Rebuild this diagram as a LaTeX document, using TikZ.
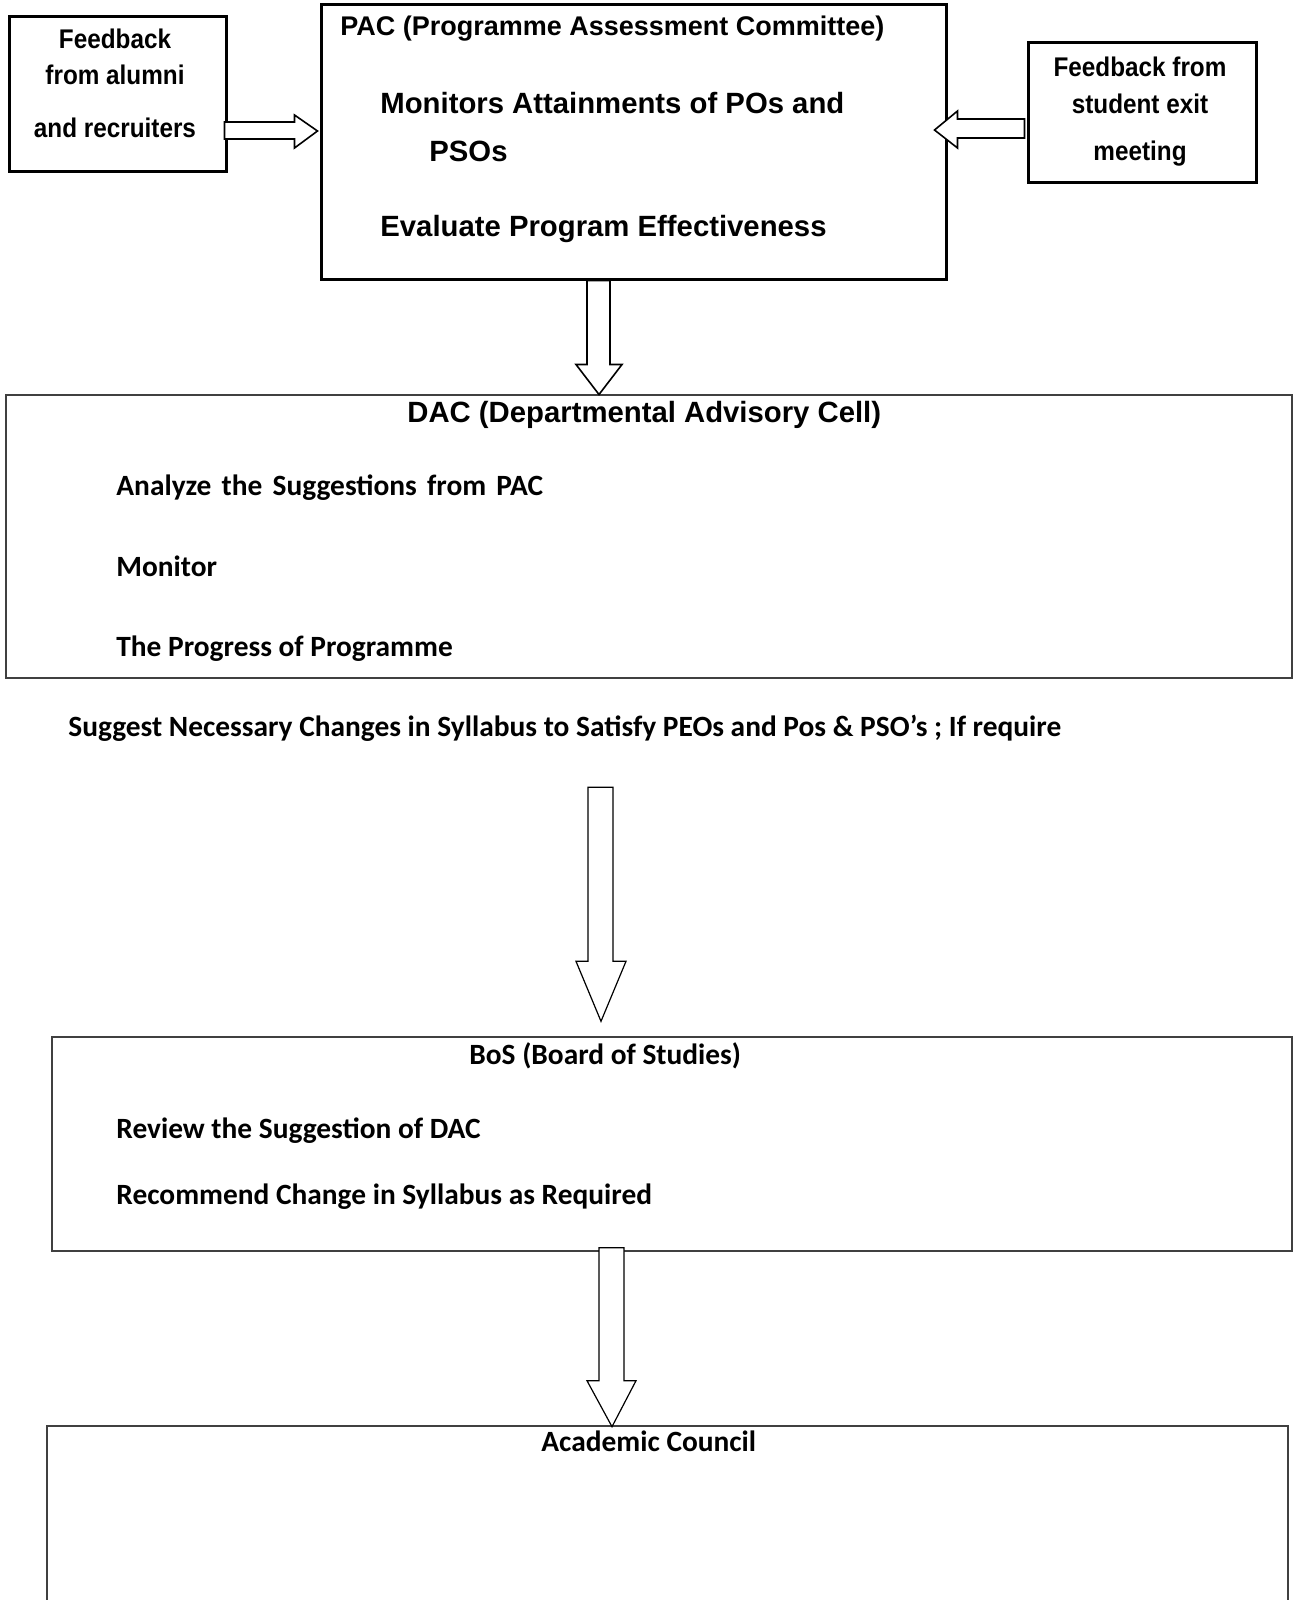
\documentclass[tikz,border=0pt]{standalone}
\usepackage{fontspec}
\usetikzlibrary{calc}
\newfontfamily\arialfont{Liberation Sans}
\newfontfamily\arialnarrow{Liberation Sans}[FakeStretch=0.9]
\newfontfamily\califont{Carlito}
\tikzset{
  thickbox/.style={draw=black, line width=1.5pt, inner sep=0pt},
  thinbox/.style={draw=black!75, line width=0.7pt, inner sep=0pt},
  blk/.style={draw=black, fill=white, line width=0.8pt, line join=miter},
  blkthin/.style={blk, line width=0.6pt},
  fbtext/.style={font=\arialnarrow\bfseries\fontsize{13.5}{16}\selectfont, inner sep=0pt, anchor=base},
  pactitle/.style={font=\arialfont\bfseries\fontsize{13.5}{16}\selectfont, inner sep=0pt, anchor=base west},
  pactext/.style={font=\arialfont\bfseries\fontsize{14.65}{17}\selectfont, inner sep=0pt, anchor=base west},
  calitext/.style={font=\califont\bfseries\fontsize{14.7}{17}\selectfont, inner sep=0pt, anchor=base west},
}
\begin{document}
\begin{tikzpicture}[x=0.5pt, y=-0.5pt]
\useasboundingbox (0,0) rectangle (1296,1600);
\fill[white] (0,0) rectangle (1296,1600);
\clip (0,0) rectangle (1296,1600);

% boxes
\node[thickbox, minimum width=108.5pt, minimum height=77pt] (fbl) at (117.5,94) {};
\node[thickbox, minimum width=312.5pt, minimum height=137pt] (pac) at (633.5,142) {};
\node[thickbox, minimum width=114pt, minimum height=69.5pt] (fbr) at (1142,112.5) {};
\node[thinbox, minimum width=643pt, minimum height=141.5pt] (dac) at (649,536.5) {};
\node[thinbox, minimum width=620pt, minimum height=107pt] (bos) at (672,1144) {};
\node[thinbox, minimum width=620.5pt, minimum height=100pt] (ac) at (667.5,1526) {};

% texts of the feedback boxes
\node[fbtext] (fbl1) at (115,49) {Feedback};
\node[fbtext] (fbl2) at (115,85) {from alumni};
\node[fbtext] (fbl3) at (115,137) {and recruiters};
\node[fbtext] (fbr1) at (1140,76) {Feedback from};
\node[fbtext] (fbr2) at (1140,113) {student exit};
\node[fbtext] (fbr3) at (1140,161) {meeting};

% PAC texts
\node[pactitle] (pact) at (340,36) {PAC (Programme Assessment Committee)};
\node[pactext] (pac1) at (380,113) {Monitors Attainments of POs and};
\node[pactext] (pac2) at (429,162) {PSOs};
\node[pactext] (pac3) at (380,236) {Evaluate Program Effectiveness};

% DAC texts
\node[pactext] (dact) at (407,422) {DAC (Departmental Advisory Cell)};
\node[calitext] (dac1) at (116,495) {Analyze \hskip1.8pt the \hskip1.8pt Suggestions \hskip1.8pt from \hskip1.8pt PAC};
\node[calitext] (dac2) at (116,576) {Monitor};
\node[calitext] (dac3) at (116,656) {The Progress of Programme};
\node[calitext] (sug) at (68,736) {Suggest Necessary Changes in Syllabus to Satisfy PEOs and Pos \& PSO’s ; If require};

% BoS texts
\node[calitext] (bost) at (469,1064) {BoS (Board of Studies)};
\node[calitext] (bos1) at (116,1138) {Review the Suggestion of DAC};
\node[calitext] (bos2) at (116,1204) {Recommend Change in Syllabus as Required};

% Academic council
\node[calitext] (act) at (541,1451) {Academic Council};

% block arrows
\draw[blk] ($(fbl.east)+(-3,28)$) -- ++(70,0) -- ++(0,-7) -- ++(23,16) -- ++(-23,17) -- ++(0,-9) -- ++(-70,0) -- cycle;
\draw[blk] ($(fbr.west)+(-2,6.5)$) -- ++(-67,0) -- ++(0,-8) -- ++(-23,19) -- ++(23,18) -- ++(0,-10) -- ++(67,0) -- cycle;
\draw[blk] ($(pac.south)+(-46.5,0)$) -- ++(0,84) -- ++(-11,0) -- ++(23,30) -- ++(23,-30) -- ++(-12,0) -- ++(0,-84) -- cycle;
\draw[blkthin] ($(bos.north)+(-84,-249)$) -- ++(0,174) -- ++(-12,0) -- ++(25,60) -- ++(25,-60) -- ++(-13,0) -- ++(0,-174) -- cycle;
\draw[blkthin] ($(bos.south)+(-73,-4)$) -- ++(0,133) -- ++(-12,0) -- ++(25,46) -- ++(24,-46) -- ++(-12,0) -- ++(0,-133) -- cycle;
\end{tikzpicture}
\end{document}
